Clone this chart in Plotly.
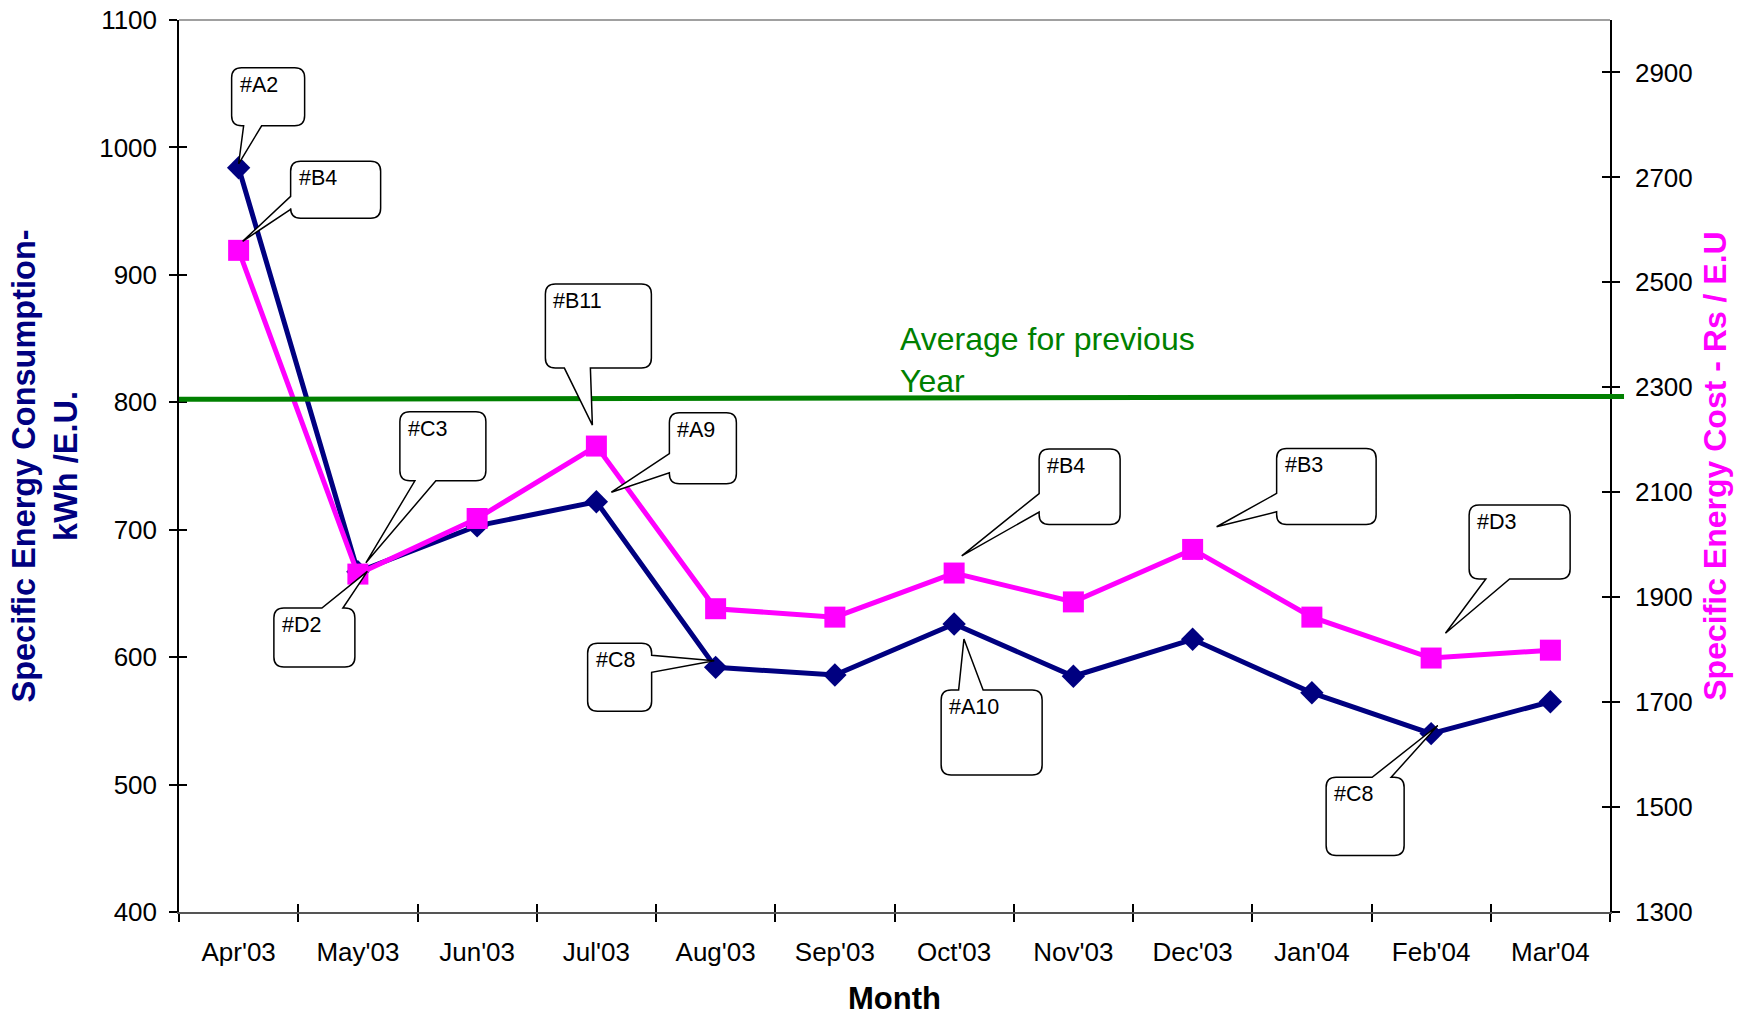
import plotly.graph_objects as go

# ---------------- data ----------------
months = ["Apr'03", "May'03", "Jun'03", "Jul'03", "Aug'03", "Sep'03",
          "Oct'03", "Nov'03", "Dec'03", "Jan'04", "Feb'04", "Mar'04"]
consumption_kwh = [984, 667, 703, 722, 592, 586, 626, 585, 614, 572, 540, 565]
cost_rs = [2561, 1944, 2050, 2188, 1878, 1862, 1946, 1891, 1991, 1862, 1784, 1799]
avg_prev_year = [802.3, 804.6]          # drawn reference line (left axis), start -> end
left_ticks = [400, 500, 600, 700, 800, 900, 1000, 1100]
right_ticks = [1300, 1500, 1700, 1900, 2100, 2300, 2500, 2700, 2900]

# callouts: label, month index, series ('c' consumption / 'k' cost)
callout_labels = ["#A2", "#B4", "#C3", "#D2", "#B11", "#A9", "#C8", "#A10", "#B4", "#B3", "#D3", "#C8"]
callout_month = [0, 0, 1, 1, 3, 3, 4, 6, 6, 8, 10, 10]
callout_series = ["c", "k", "c", "k", "k", "c", "c", "c", "k", "k", "k", "c"]

# ---------------- styling / geometry (pixels relative to the point, y downwards) ----------------
callout_geom = [
    ((-7, 66, -100, -42), "bottom", (5, 23), (0, -4)),
    ((52, 142, -89, -32), "left", (-54, -41), (4, -9)),
    ((42, 128, -160, -91), "bottom", (57, 78), (8, -9)),
    ((-84, -3, 34, 93), "top", (-36, -15), (9.5, -2.7)),
    ((-51, 55, -162, -78), "bottom", (-32, -6), (-4, -21)),
    ((73, 140, -89, -18), "left", (-48, -29), (15, -9.5)),
    ((-128, -64, -24, 44), "right", (-12, 5), (-1.4, -6.7)),
    ((-13, 88, 66, 151), "top", (4.5, 29), (9.8, 15.1)),
    ((85, 166, -124, -48.5), "left", (-79.5, -61), (7.6, -17.2)),
    ((84, 183.5, -101, -25), "left", (-56, -37.6), (24, -22.7)),
    ((38, 139, -153, -79), "bottom", (54.7, 78.5), (14.3, -24.8)),
    ((-105, -27, 43.7, 121.8), "top", (-59, -40), (6.6, -8.1)),
]

FONT = "Liberation Sans, Arial, sans-serif"
NAVY = "#000080"
MAGENTA = "#FF00FF"
GREEN = "#008000"


def P(x, y):
    return f"{x:.1f},{-y:.1f}"


def callout_path(box, edge, base, tip, r=10):
    x0, x1, y0, y1 = box
    lo, hi = min(base), max(base)
    s = [f"M{P(x0 + r, y0)}"]
    if edge == "top":
        s += [f"L{P(lo, y0)}", f"L{P(*tip)}", f"L{P(hi, y0)}"]
    s += [f"L{P(x1 - r, y0)}", f"Q{P(x1, y0)} {P(x1, y0 + r)}"]
    if edge == "right":
        s += [f"L{P(x1, lo)}", f"L{P(*tip)}", f"L{P(x1, hi)}"]
    s += [f"L{P(x1, y1 - r)}", f"Q{P(x1, y1)} {P(x1 - r, y1)}"]
    if edge == "bottom":
        s += [f"L{P(hi, y1)}", f"L{P(*tip)}", f"L{P(lo, y1)}"]
    s += [f"L{P(x0 + r, y1)}", f"Q{P(x0, y1)} {P(x0, y1 - r)}"]
    if edge == "left":
        s += [f"L{P(x0, hi)}", f"L{P(*tip)}", f"L{P(x0, lo)}"]
    s += [f"L{P(x0, y0 + r)}", f"Q{P(x0, y0)} {P(x0 + r, y0)}", "Z"]
    return " ".join(s)


fig = go.Figure()

fig.add_trace(go.Scatter(
    x=months, y=consumption_kwh, mode="lines+markers", name="Specific Energy Consumption",
    line=dict(color=NAVY, width=5),
    marker=dict(symbol="diamond", size=18, color=NAVY),
    xaxis="x", yaxis="y", hoverinfo="x+y"))

fig.add_trace(go.Scatter(
    x=months, y=cost_rs, mode="lines+markers", name="Specific Energy Cost",
    line=dict(color=MAGENTA, width=5),
    marker=dict(symbol="square", size=21, color=MAGENTA),
    xaxis="x", yaxis="y2", hoverinfo="x+y"))

# invisible helper traces so that the inner-tick overlay axes are drawn
for xa, ya, yy in [("x3", "y", consumption_kwh), ("x", "y3", consumption_kwh), ("x", "y4", cost_rs)]:
    fig.add_trace(go.Scatter(x=months, y=yy, mode="lines", opacity=0, xaxis=xa, yaxis=ya,
                             hoverinfo="skip", showlegend=False, line=dict(width=0.1)))

shapes = []
annotations = []

# average for previous year line (extends slightly past the right axis)
shapes.append(dict(type="line", xref="x domain", yref="y", x0=0, x1=1.0098,
                   y0=avg_prev_year[0], y1=avg_prev_year[1],
                   line=dict(color=GREEN, width=5), layer="above"))

# top border of plot area
shapes.append(dict(type="line", xref="x domain", yref="y domain", x0=0, x1=1, y0=1, y1=1,
                   line=dict(color="#808080", width=1.5), layer="above"))

for lab, mi, ser, (box, edge, base, tip) in zip(callout_labels, callout_month, callout_series, callout_geom):
    if ser == "c":
        yref, yval = "y", consumption_kwh[mi]
    else:
        yref, yval = "y2", cost_rs[mi]
    shapes.append(dict(type="path", xref="x", yref=yref, xsizemode="pixel", ysizemode="pixel",
                       xanchor=mi, yanchor=yval, path=callout_path(box, edge, base, tip),
                       fillcolor="white", line=dict(color="black", width=1.5), layer="above"))
    annotations.append(dict(x=mi, y=yval, xref="x", yref=yref, text=lab, showarrow=False,
                            xanchor="left", yanchor="middle", xshift=box[0] + 6, yshift=-(box[2] + 17),
                            font=dict(family=FONT, size=21.5, color="black")))

annotations.append(dict(x=0.5024, y=0.6183, xref="paper", yref="paper",
                        text="Average for previous<br>Year", showarrow=False,
                        xanchor="left", yanchor="middle", align="left",
                        font=dict(family=FONT, size=32, color=GREEN)))

tickfont = dict(family=FONT, size=26, color="black")

fig.update_layout(
    width=1753, height=1016,
    margin=dict(l=179, r=143, t=20, b=104),
    paper_bgcolor="white", plot_bgcolor="white",
    showlegend=False,
    font=dict(family=FONT, color="black"),
    xaxis=dict(type="category", categoryorder="array", categoryarray=months,
               range=[-0.5, 11.5], tickson="boundaries", automargin=False,
               ticks="outside", ticklen=8, tickwidth=1.5, tickcolor="black",
               showline=True, linecolor="#555555", linewidth=1.5,
               showgrid=False, zeroline=False, tickfont=tickfont, ticklabelstandoff=16,
               title=dict(text="Month", standoff=23,
                          font=dict(family=FONT, size=31, color="black", weight="bold"))),
    yaxis=dict(range=[400, 1100], tickvals=left_ticks, ticklabeloverflow="allow", automargin=False,
               ticks="outside", ticklen=8, tickwidth=1.5, tickcolor="black",
               showline=True, linecolor="black", linewidth=1.5,
               showgrid=False, zeroline=False, tickfont=tickfont, ticklabelstandoff=7,
               title=dict(text="Specific Energy Consumption-<br>kWh /E.U.", standoff=12,
                          font=dict(family=FONT, size=32.5, color=NAVY, weight="bold"))),
    yaxis2=dict(range=[1300, 3000], tickvals=right_ticks, overlaying="y", side="right", anchor="x",
                ticklabeloverflow="allow", automargin=False,
                ticks="outside", ticklen=8, tickwidth=1.5, tickcolor="black",
                showline=True, linecolor="black", linewidth=1.5,
                showgrid=False, zeroline=False, tickfont=tickfont, ticklabelstandoff=10,
                title=dict(text="Specific Energy Cost - Rs / E.U", standoff=12,
                           font=dict(family=FONT, size=32, color=MAGENTA, weight="bold"))),
    xaxis3=dict(type="category", categoryorder="array", categoryarray=months, overlaying="x",
                anchor="y", side="bottom", range=[-0.5, 11.5], tickson="boundaries", automargin=False,
                ticks="inside", ticklen=8, tickwidth=1.5, tickcolor="black",
                showticklabels=False, showline=False, showgrid=False, zeroline=False),
    yaxis3=dict(range=[400, 1100], tickvals=left_ticks, overlaying="y", side="left", anchor="x",
                automargin=False,
                ticks="inside", ticklen=8, tickwidth=1.5, tickcolor="black",
                showticklabels=False, showline=False, showgrid=False, zeroline=False),
    yaxis4=dict(range=[1300, 3000], tickvals=right_ticks, overlaying="y", side="right", anchor="x",
                automargin=False,
                ticks="inside", ticklen=8, tickwidth=1.5, tickcolor="black",
                showticklabels=False, showline=False, showgrid=False, zeroline=False),
    shapes=shapes,
    annotations=annotations,
)

# remove the default 8px page margin so the figure fills the window exactly
fig.write_html("out.html", config={"displayModeBar": False},
               post_script="document.body.style.margin='0';document.body.style.overflow='hidden';")
